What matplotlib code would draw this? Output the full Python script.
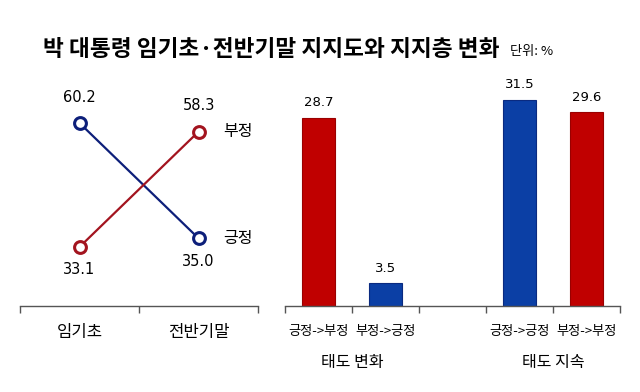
import numpy as np
import matplotlib.pyplot as plt

plt.rcParams['font.family'] = ['Noto Sans CJK KR', 'DejaVu Sans']

# data
title = '박 대통령 임기초·전반기말 지지도와 지지층 변화'
unit = '단위: %'
periods = ['임기초', '전반기말']
positive = [60.2, 35.0]   # 긍정
negative = [33.1, 58.3]   # 부정
groups = ['태도 변화', '태도 지속']
bar_labels = [['긍정->부정', '부정->긍정'], ['긍정->긍정', '부정->부정']]
bar_values = [[28.7, 3.5], [31.5, 29.6]]

RED = '#c00000'
BLUE = '#0b3fa5'
LRED = '#a3141f'
LBLUE = '#0d1f7a'
AXC = '#555555'

fig = plt.figure(figsize=(6.4, 3.92), dpi=100)
fig.text(43 / 640, 1 - 49 / 392, title, fontsize=16.3, fontweight='bold',
         ha='left', va='center')
fig.text(510 / 640, 1 - 51 / 392, unit, fontsize=9.5, ha='left', va='center')

bottom = 1 - 306 / 392
height = 226 / 392


def style_axis(ax, n):
    for s in ['top', 'right', 'left']:
        ax.spines[s].set_visible(False)
    ax.spines['bottom'].set_color(AXC)
    ax.spines['bottom'].set_linewidth(1)
    ax.set_yticks([])
    ax.set_xticks(np.arange(n + 1) - 0.5)
    ax.set_xticklabels([])
    ax.tick_params(axis='x', length=5, width=1, color=AXC, direction='out')
    ax.set_xlim(-0.5, n - 0.5)


# left: line chart
ax1 = fig.add_axes([20 / 640, bottom, 238 / 640, height])
style_axis(ax1, len(periods))
ax1.set_ylim(20.2, 69.6)
x = np.arange(len(periods))
for vals, lc, name in [(positive, LBLUE, '긍정'), (negative, LRED, '부정')]:
    ax1.plot(x, vals, color=lc, lw=1.6, marker='o', ms=8.5,
             mfc='white', mec=lc, mew=2.2, zorder=3)
    for xi, v, other in zip(x, vals, [negative, positive][vals is negative]):
        dy = 26 if v > other else -23
        ax1.annotate(f'{v:.1f}', (xi, v), xytext=(0, dy),
                     textcoords='offset pixels', ha='center', va='center',
                     fontsize=10.5, family='DejaVu Sans')
    ax1.annotate(name, (x[-1], vals[-1]), xytext=(39, 0),
                 textcoords='offset pixels', ha='center', va='center',
                 fontsize=11.5)
for xi, p in zip(x, periods):
    ax1.annotate(p, (xi, 0), xycoords=('data', 'axes fraction'),
                 xytext=(0, -27), textcoords='offset pixels',
                 ha='center', va='center', fontsize=12)

# right: bar chart
n_slots = sum(len(g) for g in bar_labels) + len(groups) - 1
ax2 = fig.add_axes([285 / 640, bottom, 335 / 640, height])
style_axis(ax2, n_slots)
ax2.set_ylim(0, 34.5)
pos = 0
for g, labels, vals in zip(groups, bar_labels, bar_values):
    xs = pos + np.arange(len(labels))
    colors = [RED if lab.endswith('부정') else BLUE for lab in labels]
    edges = ['#9a0000' if c == RED else '#0a2a80' for c in colors]
    ax2.bar(xs, vals, width=0.49, color=colors, edgecolor=edges, lw=0.8)
    for xi, v, lab in zip(xs, vals, labels):
        ax2.annotate(f'{v}', (xi, v), xytext=(0, 15),
                     textcoords='offset pixels', ha='center', va='center',
                     fontsize=9.5, family='DejaVu Sans')
        ax2.annotate(lab, (xi, 0), xycoords=('data', 'axes fraction'),
                     xytext=(0, -26), textcoords='offset pixels',
                     ha='center', va='center', fontsize=9.5)
    ax2.annotate(g, (xs.mean(), 0), xycoords=('data', 'axes fraction'),
                 xytext=(0, -56), textcoords='offset pixels',
                 ha='center', va='center', fontsize=11.5)
    pos += len(labels) + 1

fig.savefig('out.png', dpi=100)
